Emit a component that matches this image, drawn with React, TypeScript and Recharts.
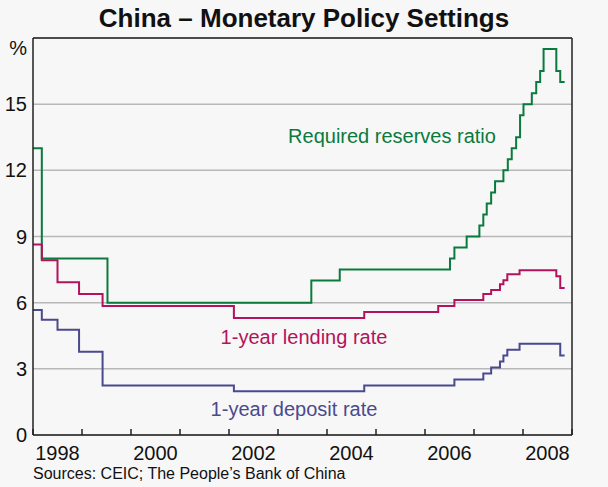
import React from 'react';
import { LineChart, Line, XAxis, YAxis, CartesianGrid, ReferenceLine } from 'recharts';

// step dates (decimal years) and levels
const reserveYears = [1998.0, 1998.18, 1999.52, 2003.68, 2004.26, 2006.51, 2006.6, 2006.85, 2007.11, 2007.19, 2007.26, 2007.35, 2007.43, 2007.6, 2007.69, 2007.77, 2007.86, 2007.94, 2008.01, 2008.18, 2008.27, 2008.35, 2008.42, 2008.68, 2008.76, 2008.85];
const reserveRatio = [13, 8, 6, 7, 7.5, 8, 8.5, 9, 9.5, 10, 10.5, 11, 11.5, 12, 12.5, 13, 13.5, 14.5, 15, 15.5, 16, 16.5, 17.5, 16.5, 16, 16];

const lendingYears = [1998.0, 1998.18, 1998.5, 1998.94, 1999.42, 2002.1, 2004.76, 2006.27, 2006.6, 2007.19, 2007.35, 2007.53, 2007.6, 2007.68, 2007.93, 2008.68, 2008.76, 2008.85];
const lendingRate = [8.64, 7.92, 6.93, 6.39, 5.85, 5.31, 5.58, 5.85, 6.12, 6.39, 6.57, 6.84, 7.02, 7.29, 7.47, 7.2, 6.66, 6.66];

const depositYears = [1998.0, 1998.18, 1998.5, 1998.94, 1999.42, 2002.1, 2004.76, 2006.6, 2007.19, 2007.35, 2007.53, 2007.6, 2007.68, 2007.93, 2008.76, 2008.85];
const depositRate = [5.67, 5.22, 4.77, 3.78, 2.25, 1.98, 2.25, 2.52, 2.79, 3.06, 3.33, 3.6, 3.87, 4.14, 3.6, 3.6];

const yearTicks = [1998, 1999, 2000, 2001, 2002, 2003, 2004, 2005, 2006, 2007, 2008, 2009];
const yearLabels = [1998, 2000, 2002, 2004, 2006, 2008];
const yTicks = [0, 3, 6, 9, 12, 15, 18];

const W = 608;
const H = 487;
const LEFT_W = 33;
const RIGHT_W = 36;
const TOP = 38;
const X_AXIS_H = 52;
const YEAR_PX = (W - LEFT_W - RIGHT_W) / (2009 - 1998);

const FONT = 'Arial, "Liberation Sans", sans-serif';
const AXIS = '#222';
const GREEN = '#0a7a3e';
const RED = '#b3125c';
const BLUE = '#4a4a8e';

const toPoints = (years: number[], values: number[]) =>
  years.map((year, i) => ({ year, value: values[i] }));

const YearTick = (props: any) => {
  const { x, y, payload } = props;
  const year = payload.value;
  return (
    <g>
      <line x1={x} y1={y} x2={x} y2={y - 6} stroke={AXIS} strokeWidth={1.5} />
      {yearLabels.includes(year) ? (
        <text x={x + YEAR_PX / 2} y={y + 18} dy="0.355em" textAnchor="middle" fontSize={20} fill="#111" fontFamily={FONT}>
          {year}
        </text>
      ) : null}
    </g>
  );
};

const PctTick = (props: any) => {
  const { x, y, payload, side } = props;
  const top = payload.value === 18;
  return (
    <text
      x={x}
      y={top ? y + 10 : y}
      dy="0.355em"
      textAnchor={side === 'left' ? 'end' : 'start'}
      fontSize={20}
      fill="#111"
      fontFamily={FONT}
    >
      {top ? '%' : payload.value}
    </text>
  );
};

const label = (text: string, color: string, cx: number, cy: number) => (
  <div
    style={{
      position: 'absolute',
      left: cx,
      top: cy,
      transform: 'translate(-50%, -50%)',
      color,
      fontSize: 20,
      fontFamily: FONT,
      whiteSpace: 'nowrap',
    }}
  >
    {text}
  </div>
);

export default function App() {
  return (
    <div style={{ position: 'relative', width: W, height: H, background: '#f7f7f7', fontFamily: FONT }}>
      <style>{'body{margin:0}'}</style>
      <div
        style={{
          position: 'absolute',
          left: 0,
          width: W,
          top: 18,
          transform: 'translateY(-50%)',
          textAlign: 'center',
          fontWeight: 'bold',
          fontSize: 26,
          color: '#111',
        }}
      >
        China – Monetary Policy Settings
      </div>
      <LineChart width={W} height={H} margin={{ top: TOP, right: 0, bottom: 0, left: 0 }}>
        <CartesianGrid yAxisId="left" vertical={false} stroke="#b8b8b8" strokeWidth={1.5} />
        <XAxis
          dataKey="year"
          type="number"
          domain={[1998, 2009]}
          allowDataOverflow
          ticks={yearTicks}
          interval={0}
          height={X_AXIS_H}
          tickSize={0}
          tickMargin={0}
          tickLine={false}
          axisLine={{ stroke: AXIS, strokeWidth: 1.5 }}
          tick={<YearTick />}
        />
        <YAxis
          yAxisId="left"
          domain={[0, 18]}
          ticks={yTicks}
          interval={0}
          width={LEFT_W}
          tickSize={0}
          tickMargin={6}
          tickLine={false}
          axisLine={{ stroke: AXIS, strokeWidth: 1.5 }}
          tick={<PctTick side="left" />}
        />
        <YAxis
          yAxisId="right"
          orientation="right"
          domain={[0, 18]}
          ticks={yTicks}
          interval={0}
          width={RIGHT_W}
          tickSize={0}
          tickMargin={6}
          tickLine={false}
          axisLine={{ stroke: AXIS, strokeWidth: 1.5 }}
          tick={<PctTick side="right" />}
        />
        <ReferenceLine yAxisId="left" y={18} stroke={AXIS} strokeWidth={1.5} />
        <Line yAxisId="left" data={toPoints(reserveYears, reserveRatio)} dataKey="value" type="stepAfter" stroke={GREEN} strokeWidth={2} dot={false} isAnimationActive={false} />
        <Line yAxisId="left" data={toPoints(lendingYears, lendingRate)} dataKey="value" type="stepAfter" stroke={RED} strokeWidth={2} dot={false} isAnimationActive={false} />
        <Line yAxisId="left" data={toPoints(depositYears, depositRate)} dataKey="value" type="stepAfter" stroke={BLUE} strokeWidth={2} dot={false} isAnimationActive={false} />
      </LineChart>
      {label('Required reserves ratio', GREEN, 392, 136)}
      {label('1-year lending rate', RED, 304, 337)}
      {label('1-year deposit rate', BLUE, 294, 409)}
      <div style={{ position: 'absolute', left: 33, top: 474, transform: 'translateY(-50%)', fontSize: 16, color: '#111' }}>
        Sources: CEIC; The People’s Bank of China
      </div>
    </div>
  );
}
